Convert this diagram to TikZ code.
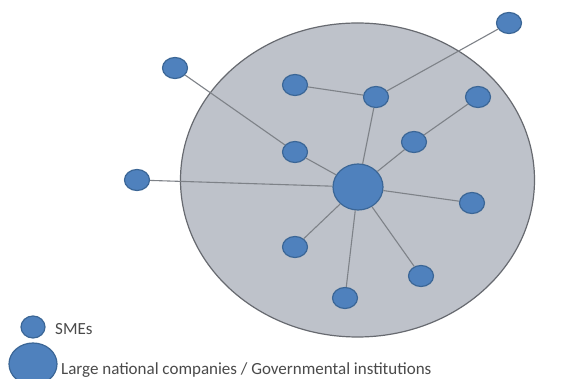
\documentclass[tikz,border=0pt]{standalone}
\usepackage{fontspec}
\setmainfont{Carlito}
\usetikzlibrary{shapes.geometric}
\definecolor{nodeblue}{HTML}{4F81BD}
\definecolor{nodeedge}{HTML}{3B6696}
\definecolor{zonefill}{HTML}{BEC2CA}
\definecolor{zoneedge}{HTML}{676A70}
\definecolor{linkgray}{HTML}{7E8288}
\definecolor{labelgray}{HTML}{4A4A4A}
\tikzset{
  sme/.style={ellipse, draw=nodeedge, line width=1.2pt, fill=nodeblue,
    minimum width=25pt, minimum height=21pt, inner sep=0pt},
  hub/.style={ellipse, draw=nodeedge, line width=1.2pt, fill=nodeblue,
    minimum width=50pt, minimum height=46pt, inner sep=0pt},
  link/.style={draw=linkgray, line width=1.1pt},
  legendtext/.style={anchor=west, text=labelgray, inner sep=0pt,
    font=\fontsize{17}{19}\selectfont}
}
\begin{document}
\begin{tikzpicture}[x=1pt,y=-1pt]
\useasboundingbox (0,0) rectangle (579,379);
\fill[white] (0,0) rectangle (579,379);
% national zone
\draw[fill=zonefill, draw=zoneedge, line width=1.2pt] (357.5,180) ellipse [x radius=177, y radius=157];
% hub and SMEs
\node[hub] (h) at (358,187) {};
\node[sme] (tr) at (509,23) {};
\node[sme] (tl) at (175,68) {};
\node[sme] (a) at (295,85) {};
\node[sme] (b) at (376,97) {};
\node[sme] (c) at (478,97) {};
\node[sme] (d) at (414,142) {};
\node[sme] (e) at (295,152) {};
\node[sme] (l) at (137,180) {};
\node[sme] (f) at (472,203) {};
\node[sme] (g) at (295,247) {};
\node[sme] (i) at (421,276) {};
\node[sme] (j) at (345,298) {};
% links
\path[link] (tr) -- (b) (a) -- (b) (b) -- (h) (c) -- (d) (d) -- (h)
  (tl) -- (e) (e) -- (h) (l) -- (h) (h) -- (f) (h) -- (g) (h) -- (i) (h) -- (j);
% legend
\node[sme, minimum width=24pt, minimum height=22pt] (ls) at (33,327) {};
\node[legendtext] (lst) at (55,329) {SMEs};
\node[hub, minimum width=48pt, minimum height=42pt] (lh) at (33,364) {};
\node[legendtext] (lht) at (61,370) {Large national companies / Governmental institutions};
\end{tikzpicture}
\end{document}
